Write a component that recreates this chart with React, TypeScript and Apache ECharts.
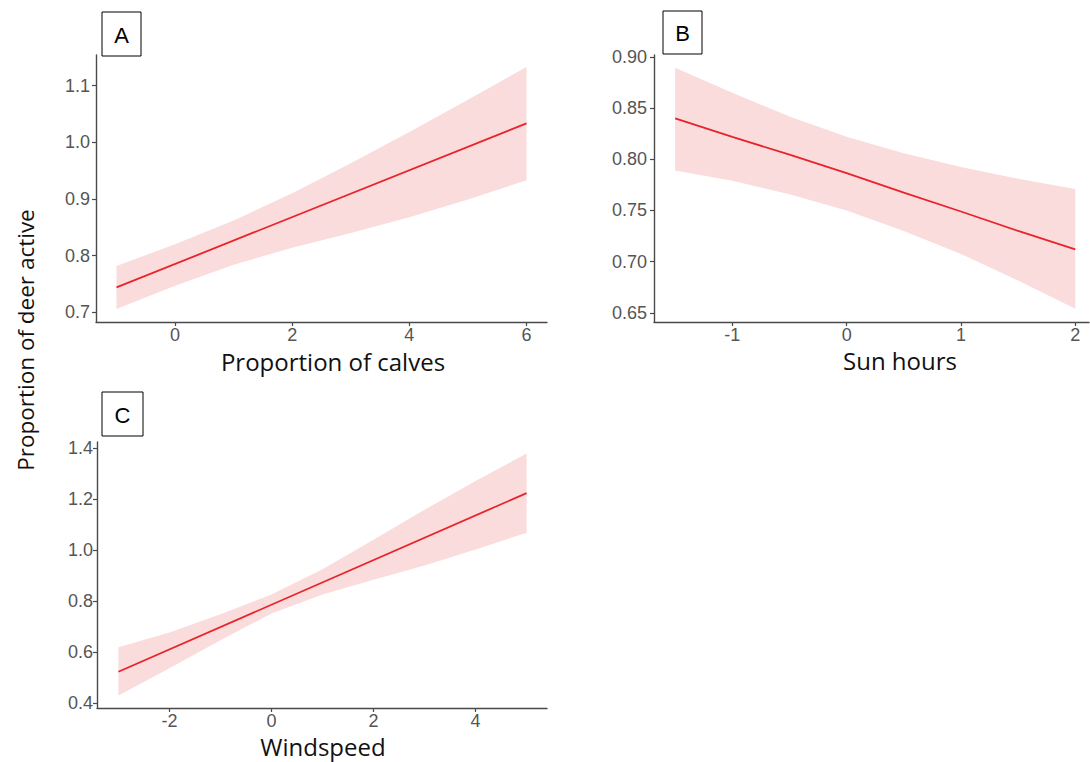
import React, { useEffect, useRef } from "react";
import * as echarts from "echarts";

// Panel A: Proportion of calves
const calvesX = [-1, 0, 1, 2, 3, 4, 5, 6];
const calvesLower = [0.706, 0.747, 0.784, 0.814, 0.84, 0.868, 0.899, 0.933];
const calvesUpper = [0.782, 0.82, 0.862, 0.91, 0.963, 1.018, 1.075, 1.133];
const calvesFitX = [-1, 6];
const calvesFit = [0.744, 1.0335];
const calvesXTicks = [0, 2, 4, 6];
const calvesYTicks = [0.7, 0.8, 0.9, 1.0, 1.1];

// Panel B: Sun hours
const sunX = [-1.5, -1, -0.5, 0, 0.5, 1, 1.5, 2];
const sunLower = [0.789, 0.779, 0.766, 0.75, 0.73, 0.7075, 0.6815, 0.654];
const sunUpper = [0.8896, 0.865, 0.842, 0.822, 0.806, 0.7925, 0.781, 0.771];
const sunFit = [0.84, 0.822, 0.8046, 0.7865, 0.7675, 0.749, 0.73, 0.712];
const sunXTicks = [-1, 0, 1, 2];
const sunYTicks = [0.65, 0.7, 0.75, 0.8, 0.85, 0.9];

// Panel C: Windspeed
const windX = [-3, -2, -1, 0, 1, 2, 3, 4, 5];
const windLower = [0.431, 0.538, 0.647, 0.752, 0.826, 0.884, 0.94, 1.002, 1.068];
const windUpper = [0.62, 0.677, 0.749, 0.826, 0.925, 1.04, 1.158, 1.27, 1.378];
const windFitX = [-3, 5];
const windFit = [0.524, 1.223];
const windXTicks = [-2, 0, 2, 4];
const windYTicks = [0.4, 0.6, 0.8, 1.0, 1.2, 1.4];

const panelLetters = ["A", "B", "C"];
const xTitles = ["Proportion of calves", "Sun hours", "Windspeed"];
const yTitle = "Proportion of deer active";

const RIBBON = "#FADCDC";
const LINE = "#E8232A";
const AXIS = "#4a4a4a";
const TICKTXT = "#555555";

function xAxisDef(grid: number, min: number, max: number, ticks: number[]) {
  return {
    type: "value",
    gridIndex: grid,
    min,
    max,
    splitLine: { show: false },
    axisLine: { show: true, onZero: false, lineStyle: { color: AXIS, width: 1.4 } },
    axisTick: { show: true, length: 4, lineStyle: { color: AXIS, width: 1.2 }, customValues: ticks },
    axisLabel: {
      customValues: ticks,
      margin: 4,
      fontSize: 18,
      fontFamily: "Liberation Sans, Arial, sans-serif",
      color: TICKTXT,
      formatter: (v: number) => String(v),
    },
  };
}

function yAxisDef(grid: number, min: number, max: number, ticks: number[], digits: number, margin: number) {
  return {
    type: "value",
    gridIndex: grid,
    min,
    max,
    splitLine: { show: false },
    axisLine: { show: true, onZero: false, lineStyle: { color: AXIS, width: 1.4 } },
    axisTick: { show: true, length: 4, lineStyle: { color: AXIS, width: 1.2 }, customValues: ticks },
    axisLabel: {
      customValues: ticks,
      margin,
      fontSize: 18,
      fontFamily: "Liberation Sans, Arial, sans-serif",
      color: TICKTXT,
      formatter: (v: number) => v.toFixed(digits),
    },
  };
}

function ribbonSeries(idx: number, xs: number[], lo: number[], hi: number[]) {
  return {
    type: "custom",
    xAxisIndex: idx,
    yAxisIndex: idx,
    silent: true,
    z: 1,
    data: xs.map((x, i) => [x, lo[i], hi[i]]),
    renderItem: (params: any, api: any) => {
      if (params.dataIndex !== 0) return null;
      const upper = xs.map((x, i) => api.coord([x, hi[i]]));
      const lower = xs.map((x, i) => api.coord([x, lo[i]])).reverse();
      return {
        type: "polygon",
        shape: { points: upper.concat(lower) },
        style: { fill: RIBBON, stroke: "none" },
      };
    },
  };
}

function fitSeries(idx: number, xs: number[], ys: number[]) {
  return {
    type: "line",
    xAxisIndex: idx,
    yAxisIndex: idx,
    symbol: "none",
    silent: true,
    lineStyle: { color: LINE, width: 1.8 },
    data: xs.map((x, i) => [x, ys[i]]),
    z: 3,
  };
}

function letterBox(x: number, y: number, w: number, h: number, label: string) {
  return {
    type: "group",
    children: [
      {
        type: "rect",
        shape: { x, y, width: w, height: h },
        style: { fill: "#ffffff", stroke: "#000000", lineWidth: 1 },
      },
      {
        type: "text",
        x: x + w / 2,
        y: y + h / 2 + 1,
        style: {
          text: label,
          fontSize: 22,
          fontFamily: "Liberation Sans, Arial, sans-serif",
          fill: "#000000",
          align: "center",
          verticalAlign: "middle",
        },
      },
    ],
  };
}

function titleText(x: number, y: number, text: string, size: number, rotation = 0) {
  return {
    type: "text",
    x,
    y,
    rotation,
    style: {
      text,
      fontSize: size,
      fontFamily: "'Open Sans', 'Noto Sans', sans-serif",
      fill: "#111111",
      align: "center",
      verticalAlign: "middle",
    },
  };
}

export default function App() {
  const ref = useRef<HTMLDivElement>(null);
  useEffect(() => {
    if (!ref.current) return;
    const chart = echarts.init(ref.current, undefined, { renderer: "svg" });
    const option = {
      animation: false,
      backgroundColor: "#ffffff",
      grid: [
        { left: 96, top: 55, width: 451, height: 267 },
        { left: 654, top: 55, width: 435, height: 267 },
        { left: 97, top: 442, width: 450, height: 266 },
      ],
      xAxis: [
        xAxisDef(0, -1.35, 6.35, calvesXTicks),
        xAxisDef(1, -1.685, 2.12, sunXTicks),
        xAxisDef(2, -3.42, 5.4, windXTicks),
      ],
      yAxis: [
        yAxisDef(0, 0.683, 1.154, calvesYTicks, 1, 6),
        yAxisDef(1, 0.641, 0.902, sunYTicks, 2, 7),
        yAxisDef(2, 0.382, 1.423, windYTicks, 1, 4),
      ],
      series: [
        ribbonSeries(0, calvesX, calvesLower, calvesUpper),
        fitSeries(0, calvesFitX, calvesFit),
        ribbonSeries(1, sunX, sunLower, sunUpper),
        fitSeries(1, sunX, sunFit),
        ribbonSeries(2, windX, windLower, windUpper),
        fitSeries(2, windFitX, windFit),
      ],
      graphic: [
        letterBox(102, 12, 39, 44, panelLetters[0]),
        letterBox(663, 11, 39, 43, panelLetters[1]),
        letterBox(102, 392, 41, 44, panelLetters[2]),
        titleText(333, 361, xTitles[0], 24),
        titleText(900, 360, xTitles[1], 24),
        titleText(323, 746.5, xTitles[2], 24),
        titleText(25, 340, yTitle, 22.5, Math.PI / 2),
      ],
    };
    chart.setOption(option as any);
    return () => chart.dispose();
  }, []);
  return (
    <div
      ref={ref}
      style={{ position: "absolute", left: 0, top: 0, width: 1090, height: 762, background: "#fff" }}
    />
  );
}
